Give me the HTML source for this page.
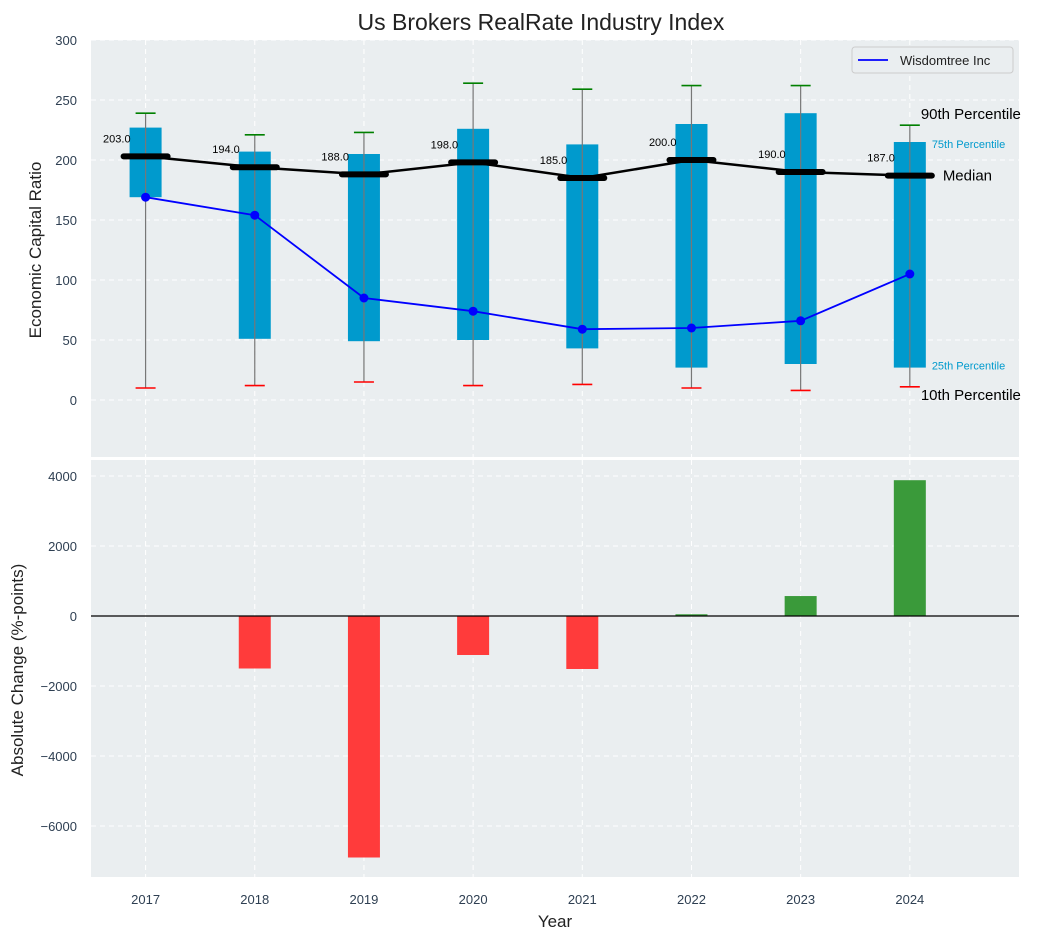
<!DOCTYPE html>
<html><head><meta charset="utf-8"><style>
body{margin:0;background:#fff;}
svg{display:block;font-family:"Liberation Sans",Arial,sans-serif;}
</style></head><body>
<svg id="c" width="1043" height="940"></svg>
<script>
const years=[2017,2018,2019,2020,2021,2022,2023,2024];
const p10=[10,12,15,12,13,10,8,11];
const p25=[169,51,49,50,43,27,30,27];
const p50=[203,194,188,198,185,200,190,187];
const p75=[227,207,205,226,213,230,239,215];
const p90=[239,221,223,264,259,262,262,229];
const wisdom=[169,154,85,74,59,60,66,105];
const change=[0,-1500,-6900,-1114,-1514,50,570,3880];
const topTicks=[0,50,100,150,200,250,300];
const botTicks=[-6000,-4000,-2000,0,2000,4000];

const NS="http://www.w3.org/2000/svg";
const svg=document.getElementById('c');
function el(t,a,p){const e=document.createElementNS(NS,t);for(const k in a)e.setAttribute(k,a[k]);(p||svg).appendChild(e);return e;}
const L=91,R=1019;
const x=v=>L+(v-2016.5)*(R-L)/8.5;
const T1=40,B1=457, yT=v=>400-v*1.2;
const T2=460,B2=877, yB=v=>616-v*0.035;

// backgrounds
let e=el('rect',{x:L,y:T1,width:R-L,height:B1-T1,fill:'#eaeef0'});

e=el('rect',{x:L,y:T2,width:R-L,height:B2-T2,fill:'#eaeef0'});


// grids
years.forEach(yr=>{
  el('line',{x1:x(yr),x2:x(yr),y1:T1,y2:B1,stroke:'#fff','stroke-dasharray':'5,4','stroke-width':1});
  el('line',{x1:x(yr),x2:x(yr),y1:T2,y2:B2,stroke:'#fff','stroke-dasharray':'5,4','stroke-width':1});
  const t=el('text',{x:x(yr),y:904,'text-anchor':'middle','font-size':13,fill:'#2e3f52'});t.textContent=yr;
  
});
topTicks.forEach(v=>{
  el('line',{x1:L,x2:R,y1:yT(v),y2:yT(v),stroke:'#fff','stroke-dasharray':'5,4'});
  const t=el('text',{x:77,y:yT(v)+5,'text-anchor':'end','font-size':13,fill:'#2e3f52'});t.textContent=v;
  
});
botTicks.forEach(v=>{
  el('line',{x1:L,x2:R,y1:yB(v),y2:yB(v),stroke:'#fff','stroke-dasharray':'5,4'});
  const t=el('text',{x:77,y:yB(v)+5,'text-anchor':'end','font-size':13,fill:'#2e3f52'});t.textContent=v<0?'\u2212'+(-v):v;
  
});

// boxes
years.forEach((yr,i)=>{
  const cx=x(yr);
  let b=el('rect',{x:cx-16,y:yT(p75[i]),width:32,height:yT(p25[i])-yT(p75[i]),fill:'#009ACD'});
  
  el('line',{x1:cx,x2:cx,y1:yT(p90[i]),y2:yT(p10[i]),stroke:'#777','stroke-width':1.2});
  el('line',{x1:cx-10,x2:cx+10,y1:yT(p90[i]),y2:yT(p90[i]),stroke:'#008000','stroke-width':1.6});
  el('line',{x1:cx-10,x2:cx+10,y1:yT(p10[i]),y2:yT(p10[i]),stroke:'#ff0000','stroke-width':1.6});
});
// median line
el('polyline',{points:years.map((yr,i)=>x(yr)+','+yT(p50[i])).join(' '),fill:'none',stroke:'#000','stroke-width':2.5});
years.forEach((yr,i)=>{
  const cx=x(yr);
  el('line',{x1:cx-22,x2:cx+22,y1:yT(p50[i]),y2:yT(p50[i]),stroke:'#000','stroke-width':6,'stroke-linecap':'round'});
  const t=el('text',{x:cx-15,y:yT(p50[i])-14,'text-anchor':'end','font-size':11,fill:'#000'});t.textContent=p50[i].toFixed(1);
  
});
// wisdomtree
el('polyline',{points:years.map((yr,i)=>x(yr)+','+yT(wisdom[i])).join(' '),fill:'none',stroke:'#0000ff','stroke-width':1.8});
years.forEach((yr,i)=>{
  const c=el('circle',{cx:x(yr),cy:yT(wisdom[i]),r:4.5,fill:'#0000ff'});
  
});
// annotations on last
const li=7,lx=x(years[li]);
[[p90[li],'90th Percentile',lx+11,yT(p90[li])-6,15,'#000'],[p75[li],'75th Percentile',lx+22,yT(p75[li])+6,11,'#009ACD'],
 [p50[li],'Median',lx+33,yT(p50[li])+5,15,'#000'],[p25[li],'25th Percentile',lx+22,yT(p25[li])+2,11,'#009ACD'],
 [p10[li],'10th Percentile',lx+11,yT(p10[li])+13,15,'#000']].forEach(a=>{
  const t=el('text',{x:a[2],y:a[3],'font-size':a[4],fill:a[5]});t.textContent=a[1];
  
});

// bottom bars
years.forEach((yr,i)=>{
  const v=change[i];if(v===0)return;
  const y0=yB(Math.max(v,0)),y1=yB(Math.min(v,0));
  const b=el('rect',{x:x(yr)-16,y:y0,width:32,height:Math.max(y1-y0,1.5),fill:v<0?'#ff3b3b':'#3a9a3a'});
  
});
el('line',{x1:L,x2:R,y1:yB(0),y2:yB(0),stroke:'#000','stroke-width':1.2});

// legend
const lg=el('g',{});
el('rect',{x:852,y:47,width:161,height:26,rx:3,fill:'#eaeef0',stroke:'#ccc'},lg);
el('line',{x1:858,x2:888,y1:60,y2:60,stroke:'#0000ff','stroke-width':1.8},lg);
let t=el('text',{x:900,y:65,'font-size':13,fill:'#222'},lg);t.textContent='Wisdomtree Inc';

// titles
t=el('text',{x:541,y:30,'text-anchor':'middle','font-size':23,fill:'#222'});t.textContent='Us Brokers RealRate Industry Index';

t=el('text',{x:555,y:927,'text-anchor':'middle','font-size':17,fill:'#222'});t.textContent='Year';

t=el('text',{x:0,y:0,'text-anchor':'middle','font-size':17,fill:'#222',transform:'translate(41,250) rotate(-90)'});t.textContent='Economic Capital Ratio';

t=el('text',{x:0,y:0,'text-anchor':'middle','font-size':17,fill:'#222',transform:'translate(23,670) rotate(-90)'});t.textContent='Absolute Change (%-points)';

</script>
</body></html>
